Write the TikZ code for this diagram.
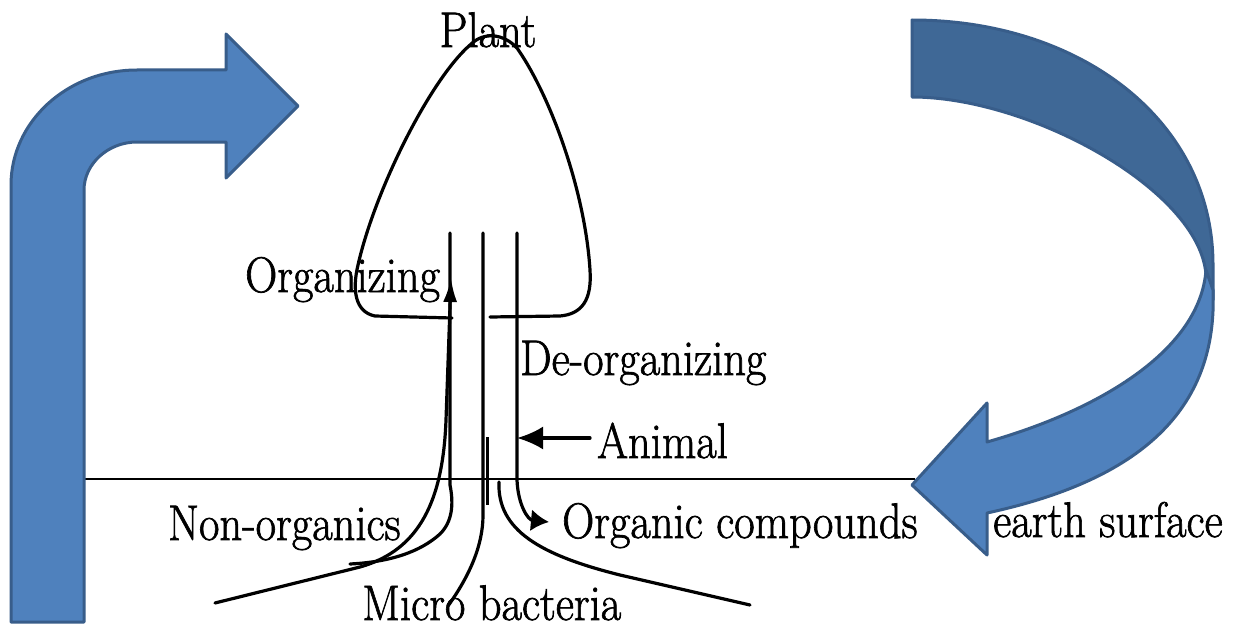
\documentclass[tikz,border=0pt]{standalone}
\usepackage{fontspec}
\newfontfamily\lmfb{Latin Modern Roman}[FakeBold=1.4]
\usetikzlibrary{arrows.meta}
\definecolor{arrblue}{HTML}{4F81BD}
\definecolor{arrdark}{HTML}{3F6896}
\definecolor{arredge}{HTML}{385D8A}
\newcommand\lbl[1]{\scalebox{0.89}[1]{#1}}
\begin{document}
\begin{tikzpicture}[x=1pt,y=-1pt,
  ln/.style={line width=3.2pt, line cap=round, line join=round},
  lab/.style={inner sep=0pt, font=\lmfb\fontsize{50}{60}\selectfont, anchor=base west},
  bluearrow/.style={fill=arrblue, draw=arredge, line width=3pt, line join=round},
  darkarrow/.style={fill=arrdark, draw=arredge, line width=3pt, line join=round}]
\useasboundingbox (0,0) rectangle (1239,634);
\fill[white] (0,0) rectangle (1239,634);

% labels
\node[lab, anchor=base] (plant) at (488,47) {\lbl{Plant}};
\node[lab] (org) at (245,292) {\lbl{Organizing}};
\node[lab] (deorg) at (520,375) {\lbl{De-organizing}};
\node[lab] (animal) at (597,458) {\lbl{Animal}};
\node[lab] (nonorg) at (168,540) {\lbl{Non-organics}};
\node[lab] (orgc) at (562,538) {\lbl{Organic compounds}};
\node[lab] (earth) at (993,537) {\lbl{earth surface}};
\node[lab] (micro) at (362,620) {\lbl{Micro bacteria}};

% key points
\coordinate (Ltop) at (450,233);
\coordinate (Mtop) at (483,233);
\coordinate (Rtop) at (517,233);
\coordinate (orgtip) at (451,278);
\coordinate (orgstart) at (215,603);
\coordinate (animtip) at (517,438);
\coordinate (animstart) at (590,438);
\coordinate (orgctip) at (549,522);
\coordinate (rcstart) at (499,482);
\coordinate (rcend) at (750,605);
\coordinate (gl) at (85,479);
\coordinate (gr) at (915,479);

% plant outline
\draw[ln] (452,318) -- (375,316) .. controls (355,312) and (352,290) .. (358,265)
  .. controls (375,190) and (430,80) .. (470,45)
  .. controls (485,30) and (505,35) .. (517,48)
  .. controls (550,95) and (585,190) .. (590,270)
  .. controls (592,300) and (582,314) .. (560,316) -- (490,317);

% ground
\draw[line width=2.6pt] (gl) -- (gr);

% stems
\draw[ln] (Ltop) -- (450,485) .. controls (454,505) and (452,522) .. (440,534)
  .. controls (420,552) and (390,562) .. (350,564);
\draw[ln] (Mtop) -- (483,515) .. controls (483,545) and (470,575) .. (448,606);
\draw[ln, -{Latex[length=18pt,width=22pt]}] (Rtop) -- (517,480) .. controls (518,505) and (528,520) .. (orgctip);
\draw[line width=3pt] (487.5,437) -- (487.5,505);

% organizing arrow
\draw[ln, -{Latex[length=24pt,width=14pt]}] (orgstart) -- (360,567)
  .. controls (420,550) and (443,500) .. (446,420) -- (orgtip);

% right lower curve
\draw[ln] (rcstart) .. controls (497,530) and (540,555) .. (620,575) -- (rcend);

% animal arrow
\draw[ln, -{Latex[length=26pt,width=23pt]}] (animstart) -- (animtip);

% left bent blue arrow
\draw[bluearrow] (11,622) -- (11,185) .. controls (11,122) and (67,70) .. (137,70)
  -- (226,70) -- (226,34) -- (298,106) -- (226,178) -- (226,142) -- (137,142)
  .. controls (108,142) and (84,164) .. (84,190) -- (84,622) -- cycle;

% right curved blue arrow
\draw[darkarrow] (912,20) .. controls (1080,20) and (1213,120) .. (1213,265) -- (1213,300)
  -- (1206,275) .. controls (1200,190) and (1030,97) .. (912,97) -- cycle;
\draw[bluearrow] (1206,270) -- (1213,290) .. controls (1218,410) and (1140,480) .. (987,513)
  -- (987,555) -- (912,485) -- (987,403) -- (987,442)
  .. controls (1100,410) and (1200,350) .. (1206,270) -- cycle;
\end{tikzpicture}
\end{document}
